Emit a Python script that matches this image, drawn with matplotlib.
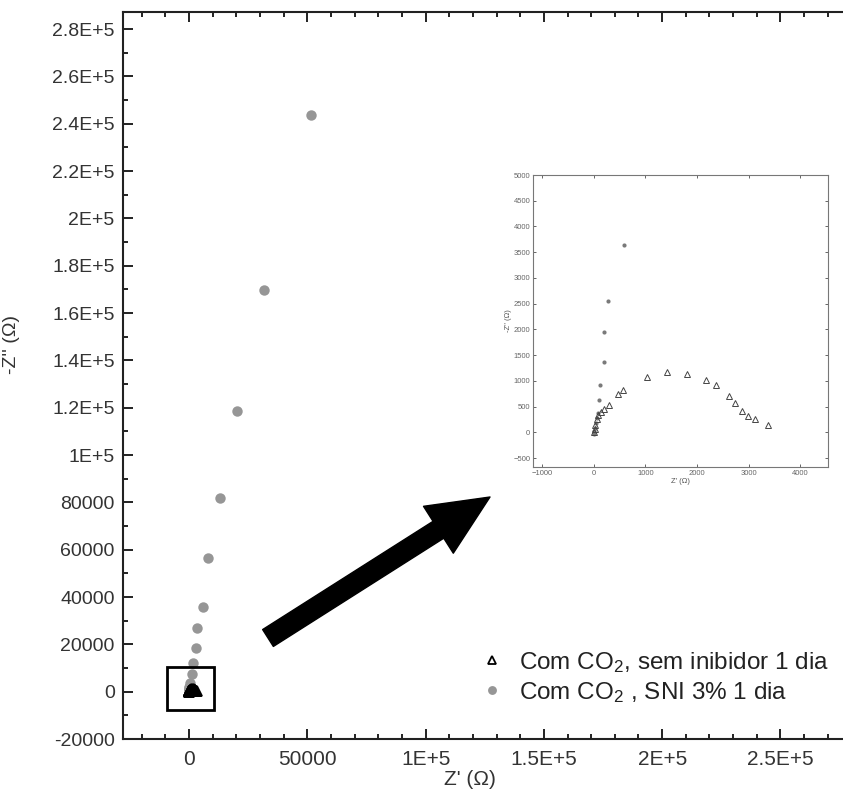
import numpy as np
import matplotlib
matplotlib.use("Agg")
import matplotlib.pyplot as plt
from matplotlib.patches import Rectangle
from matplotlib.ticker import MultipleLocator, FuncFormatter

plt.rcParams['font.family'] = ['Liberation Sans', 'DejaVu Sans']
plt.rcParams['mathtext.fontset'] = 'custom'
plt.rcParams['mathtext.rm'] = 'Liberation Sans'
plt.rcParams['mathtext.it'] = 'Liberation Sans:italic'

# DATA
# Com CO2, sem inibidor 1 dia
zre_sem = [0, 20, 35, 60, 90, 140, 194, 290, 470, 570, 1032, 1419, 1806,
           2174, 2361, 2613, 2742, 2871, 2987, 3129, 3368]
zim_sem = [0, 60, 150, 250, 330, 400, 453, 524, 744, 828, 1074, 1164, 1132,
           1022, 912, 711, 569, 420, 310, 259, 142]

# Com CO2, SNI 3% 1 dia
zre_sni = [0, 10, 25, 40, 55, 77, 97, 129, 206, 206, 277, 581, 1150,
           1690, 2960, 3380, 5900, 8030, 13100, 20300, 31700, 51560]
zim_sni = [-30, 30, 90, 180, 280, 375, 634, 912, 1358, 1947, 2555, 3641, 7400,
           12100, 18400, 26800, 35700, 56400, 81800, 118600, 169700, 243600]

labels = [r"Com CO$_2$, sem inibidor 1 dia", r"Com CO$_2$ , SNI 3% 1 dia"]


def sci_fmt(v, pos):
    if abs(v) < 1e5:
        return "%d" % v
    s = "%g" % (v / 1e5)
    return s + "E+5"


fig = plt.figure(figsize=(8.43, 7.92), dpi=100)
# right spine lies outside the picture, as in the cropped original
ax = fig.add_axes([123 / 843, 1 - 739 / 792, 740 / 843, 727 / 792])

ax.plot(zre_sni, zim_sni, 'o', color='#969696', markersize=7.5,
        markeredgewidth=0, label=labels[1], zorder=2)
ax.plot(zre_sem, zim_sem, '^', color='black', markerfacecolor='none',
        markersize=7, markeredgewidth=1.3, label=labels[0], zorder=3)

ax.set_xlim(-27900, -27900 + 740 * 422.7)
ax.set_ylim(-20000, 287200)
ax.xaxis.set_major_locator(MultipleLocator(50000))
ax.xaxis.set_minor_locator(MultipleLocator(10000))
ax.yaxis.set_major_locator(MultipleLocator(20000))
ax.yaxis.set_minor_locator(MultipleLocator(10000))
ax.xaxis.set_major_formatter(FuncFormatter(sci_fmt))
ax.yaxis.set_major_formatter(FuncFormatter(sci_fmt))
ax.tick_params(which='both', direction='in', top=True, right=True,
               width=1.4, colors='#222222')
ax.tick_params(which='major', length=7)
ax.tick_params(which='minor', length=3.5)
ax.tick_params(axis='x', labelsize=15, pad=8, labelcolor='#333333')
ax.tick_params(axis='y', labelsize=14, pad=6, labelcolor='#333333')
for sp in ax.spines.values():
    sp.set_linewidth(1.5)
    sp.set_color('#222222')

ax.set_xlabel("Z' (Ω)", fontsize=15, color='#333333', va='top')
ax.xaxis.set_label_coords((470 - 123) / 740, -(770 - 739) / 727)
ax.set_ylabel("-Z'' (Ω)", fontsize=14, color='#333333')
ax.yaxis.set_label_coords((20 - 123) / 740, (739 - 345) / 727)

# box around the origin zone
ax.add_patch(Rectangle((-9300, -7700), 19900, 18100, fill=False,
                       edgecolor='black', linewidth=2, zorder=4))

# legend
handles, lbls = ax.get_legend_handles_labels()
leg = ax.legend(handles[::-1], lbls[::-1], loc='upper left',
                bbox_to_anchor=(485 / 843, 1 - 650 / 792),
                bbox_transform=fig.transFigure, frameon=False, fontsize=17.5,
                handlelength=0.6, handletextpad=0.8, labelspacing=0.2,
                markerscale=0.85, borderaxespad=0, borderpad=0)
for t in leg.get_texts():
    t.set_color('#222222')

# arrow
ax.annotate("", xy=(490, 792 - 497), xycoords='figure pixels',
            xytext=(268, 792 - 638), textcoords='figure pixels',
            arrowprops=dict(arrowstyle="simple,head_length=2.2,head_width=2.0,tail_width=0.72",
                            mutation_scale=20, color='black',
                            shrinkA=0, shrinkB=0), zorder=5)

# inset
ins = fig.add_axes([533 / 843, 1 - 467 / 792, 295 / 843, 292 / 792])
ins.plot(zre_sni, zim_sni, 'o', color='#7a7a7a', markersize=3,
         markeredgewidth=0)
ins.plot(zre_sem, zim_sem, '^', color='#444444', markerfacecolor='none',
         markersize=5, markeredgewidth=0.7)
ins.set_xlim(-1174, 4535)
ins.set_ylim(-673, 5000)
ins.xaxis.set_major_locator(MultipleLocator(1000))
ins.yaxis.set_major_locator(MultipleLocator(500))
ins.tick_params(direction='in', top=True, right=True, length=2.5,
                width=0.7, labelsize=5.5, colors='#666666', pad=2)
for sp in ins.spines.values():
    sp.set_linewidth(0.8)
    sp.set_color('#777777')
ins.set_xlabel("Z' (Ω)", fontsize=5.5, color='#555555', labelpad=1)
ins.set_ylabel("-Z'' (Ω)", fontsize=5.5, color='#555555', labelpad=1)

fig.savefig("out.png", dpi=100)
